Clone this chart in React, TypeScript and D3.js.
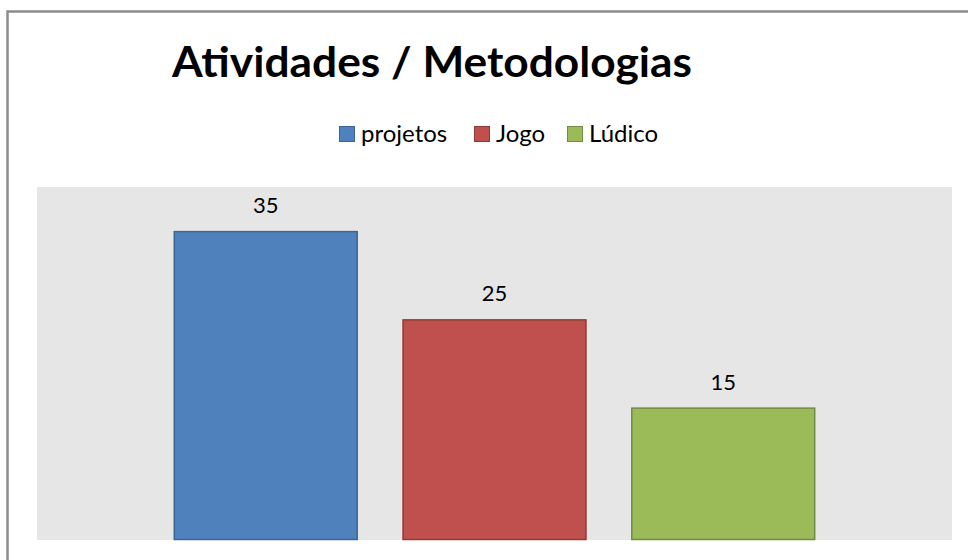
import React, { useRef, useEffect } from 'react';
import * as d3 from 'd3';

const series = ['projetos', 'Jogo', 'Lúdico'];
const values = [35, 25, 15];
const fills = ['#4f81bd', '#c0504d', '#9bbb59'];
const strokes = ['#3a6595', '#8e3b39', '#728b42'];
const yMax = 40;

const W = 968;
const H = 560;
const plot = { left: 37, right: 952, top: 187, bottom: 540 };
const font = 'Lato, "Open Sans", sans-serif';

const App = () => {
    const ref = useRef<SVGSVGElement>(null);

    useEffect(() => {
        const svg = d3.select(ref.current);
        svg.selectAll('*').remove();

        // outer chart border (right and bottom run off the page)
        svg.append('rect')
            .attr('x', 7.5).attr('y', 11.5)
            .attr('width', W).attr('height', H)
            .attr('fill', '#fff')
            .attr('stroke', '#8c8c8c')
            .attr('stroke-width', 2.5);

        svg.append('text')
            .attr('x', 172).attr('y', 77)
            .attr('font-family', font)
            .attr('font-weight', 'bold')
            .attr('font-size', 42)
            .attr('textLength', 520)
            .attr('lengthAdjust', 'spacingAndGlyphs')
            .text('Atividades / Metodologias');

        // legend
        const legendX = [339, 474, 567];
        const lg = svg.append('g');
        series.forEach((s, i) => {
            lg.append('rect')
                .attr('x', legendX[i] + 0.5).attr('y', 126.5)
                .attr('width', 15).attr('height', 15)
                .attr('fill', fills[i])
                .attr('stroke', strokes[i]);
            lg.append('text')
                .attr('x', legendX[i] + 22).attr('y', 142)
                .attr('font-family', font)
                .attr('font-size', 24)
                .attr('fill', '#000')
                .text(s);
        });

        // plot area
        svg.append('rect')
            .attr('x', plot.left).attr('y', plot.top)
            .attr('width', plot.right - plot.left)
            .attr('height', plot.bottom - plot.top)
            .attr('fill', '#e6e6e6');

        const x = d3.scaleBand<string>()
            .domain(series)
            .range([plot.left, plot.right])
            .paddingInner(0.196)
            .paddingOuter(0.598);

        const y = d3.scaleLinear()
            .domain([0, yMax])
            .range([plot.bottom, plot.top]);

        const g = svg.append('g');
        g.selectAll('rect')
            .data(values)
            .join('rect')
            .attr('x', (d, i) => (x(series[i]) as number) + 0.5)
            .attr('y', d => y(d) + 0.5)
            .attr('width', x.bandwidth() - 1)
            .attr('height', d => y(0) - y(d) - 1)
            .attr('fill', (d, i) => fills[i])
            .attr('stroke', (d, i) => strokes[i])
            .attr('stroke-width', 1.5);

        g.selectAll('text')
            .data(values)
            .join('text')
            .attr('x', (d, i) => (x(series[i]) as number) + x.bandwidth() / 2)
            .attr('y', d => y(d) - 18)
            .attr('text-anchor', 'middle')
            .attr('font-family', font)
            .attr('font-size', 22)
            .attr('fill', '#000')
            .text(d => d);
    }, []);

    return (
        <svg ref={ref} width={W} height={H}
            style={{ position: 'fixed', left: 0, top: 0, display: 'block' }} />
    );
};

export default App;
